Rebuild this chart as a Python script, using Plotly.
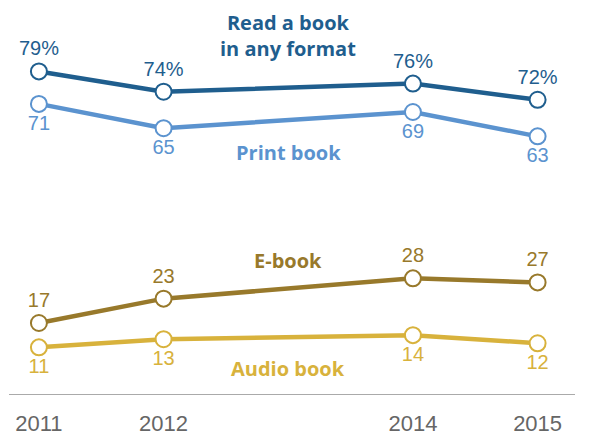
import plotly.graph_objects as go

years = [2011, 2012, 2014, 2015]
year_labels = ["2011", "2012", "2014", "2015"]
read_any = [79, 74, 76, 72]
print_book = [71, 65, 69, 63]
ebook = [17, 23, 28, 27]
audio = [11, 13, 14, 12]

series = [
    ("Read a book<br>in any format", read_any, "#1f5e8e", "top center", [f"{v}%" for v in read_any], 87.8),
    ("Print book", print_book, "#5b93cf", "bottom center", [str(v) for v in print_book], 59.0),
    ("E-book", ebook, "#98792b", "top center", [str(v) for v in ebook], 32.3),
    ("Audio book", audio, "#d8b23c", "bottom center", [str(v) for v in audio], 5.7),
]

fig = go.Figure()
for name, vals, color, tpos, texts, ly in series:
    fig.add_trace(go.Scatter(
        x=years, y=vals, mode="lines+markers+text",
        line=dict(color=color, width=4.5),
        marker=dict(size=16, color="white", line=dict(color=color, width=2)),
        text=texts, textposition=tpos,
        textfont=dict(family="Liberation Sans", size=20, color=color),
        cliponaxis=False, showlegend=False, hoverinfo="skip",
    ))
    fig.add_annotation(x=2013, y=ly, text=f"<b>{name}</b>", showarrow=False,
                       font=dict(family="Open Sans", size=20, color=color),
                       xanchor="center", yanchor="middle")

fig.update_layout(
    width=589, height=436,
    margin=dict(l=9, r=14, t=0, b=40),
    paper_bgcolor="white", plot_bgcolor="white",
    xaxis=dict(range=[2010.76, 2015.30], tickvals=years, ticktext=year_labels,
               showgrid=False, zeroline=False, showline=True, linecolor="#aaaaaa",
               linewidth=1, ticks="", ticklabelstandoff=10,
               tickfont=dict(family="Liberation Sans", size=22, color="#666666")),
    yaxis=dict(range=[-0.5, 96.6], visible=False, showgrid=False, zeroline=False),
)
fig.write_html("out.html")
